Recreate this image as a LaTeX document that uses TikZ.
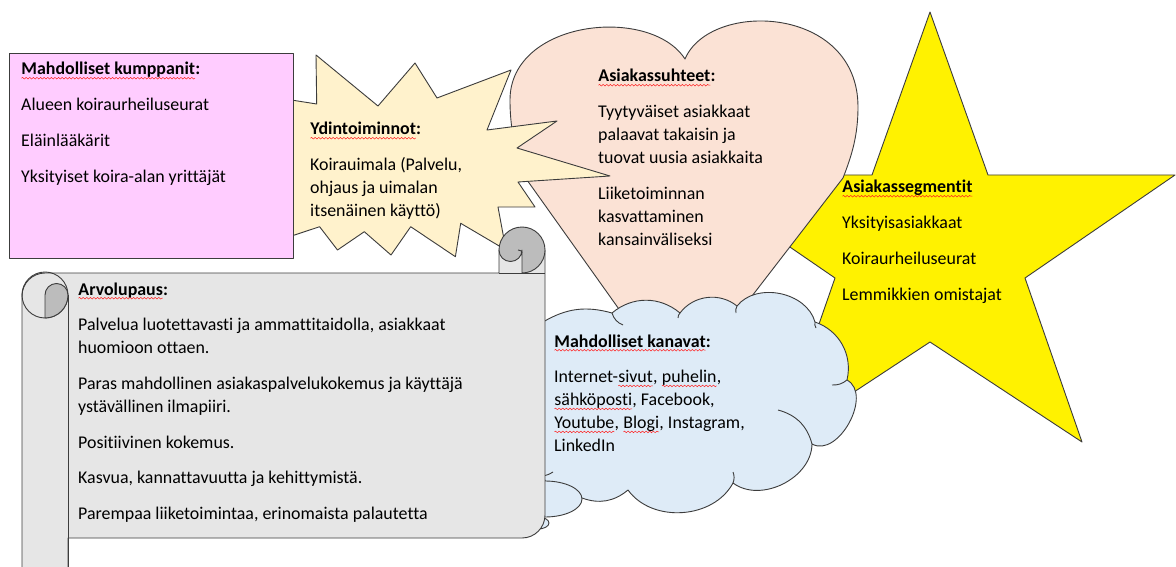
\documentclass[tikz,border=0pt]{standalone}
\usepackage{fontspec}
\setmainfont[Ligatures=NoCommon]{Carlito}
\usetikzlibrary{decorations.pathmorphing}
\definecolor{pinkf}{HTML}{FFCCFF}
\definecolor{expf}{HTML}{FFF2CC}
\definecolor{heartf}{HTML}{FBE2D5}
\definecolor{cloudf}{HTML}{DEEBF7}
\definecolor{scrollf}{HTML}{E6E6E6}
\definecolor{curlf}{HTML}{BCBCBC}
\definecolor{edge}{HTML}{3C3C3C}
\definecolor{wavered}{HTML}{FF2020}
\newcommand\rw[1]{\tikz[baseline=(w.base)]{\node[inner sep=0pt,outer sep=0pt,anchor=base west] (w) at (0,0) {#1};
  \draw[wavered,line width=0.5pt,decorate,decoration={snake,amplitude=0.8pt,segment length=3.6pt}] ([yshift=-3.2pt]w.base west) -- ([yshift=-3.2pt]w.base east);}}
\newcommand\lin[1]{\hbox{#1}}
\newcommand\gap{\vskip12.7pt}
\newcommand\blk[1]{\vtop{\baselineskip=23pt\lineskip=0pt\lineskiplimit=-20pt #1}}
\begin{document}
\begin{tikzpicture}[x=1pt,y=-1pt,
  shp/.style={draw=edge,line width=0.9pt,line join=round},
  stub/.style={draw=edge,line width=0.9pt},
  txt/.style={anchor=base west,inner sep=0pt,font=\fontsize{17.9}{23}\selectfont,text=black}]
\useasboundingbox (0,0) rectangle (1176,567);
\fill[white] (0,0) rectangle (1176,567);
% star
\path[shp,fill=yellow] (930,12) -- (988,175) -- (1175,175) -- (1025,278) -- (1082,442) -- (930,342) -- (778,442) -- (835,278) -- (685,175) -- (872,175) -- cycle;
% heart
\path[shp,fill=heartf] (678,392) -- (527,180) .. controls (518,160) and (510,135) .. (510,100)
  .. controls (510,20) and (650,5) .. (685,59)
  .. controls (710,0) and (858,5) .. (858,107)
  .. controls (858,135) and (852,155) .. (843,178) -- cycle;
% explosion
\path[shp,fill=expf] (285,99) -- (316.7,104) -- (316,55) -- (378,106) -- (415,63) -- (437,98) -- (511,70) -- (487,130) -- (557,121) -- (517,148) -- (610,176) -- (518,182) -- (535,207) -- (498,207) -- (506,250) -- (460.7,223.3) -- (455.4,256.7) -- (410.7,226.7) -- (391,255) -- (364.3,231.7) -- (337.5,250) -- (319.6,226.7) -- (294.6,235) -- (285,237) -- cycle;
% pink box
\path[shp,fill=pinkf] (9,53) rectangle (293,258);
% cloud
\path[shp,fill=cloudf] (543,322) to[bend left=23] (612,313) to[bend left=40] (680,313)
  to[bend left=46] (737,306) to[bend left=63] (815,322) to[bend left=42] (847,380)
  to[bend left=90,looseness=1.05] (812,444) to[bend left=63] (733,483)
  to[bend left=58] (628,490) to[bend left=30] (582,498) to[bend left=40] (543,476)
  -- (525,476) -- (525,322) -- cycle;
\path[shp,fill=cloudf] (545,499) ellipse[x radius=37,y radius=18];
\path[shp,fill=cloudf] (538,523) ellipse[x radius=11,y radius=6];
\draw[stub] (612,313) to[bend right=25] (623,325);
\draw[stub] (680,313) to[bend right=20] (678,318);
\draw[stub] (737,306) to[bend right=20] (736,313);
\draw[stub] (815,322) to[bend right=20] (816,328);
\draw[stub] (847,380) to[bend left=20] (832,385);
\draw[stub] (812,444) to[bend right=30] (778,410);
\draw[stub] (733,483) to[bend right=20] (733,472);
\draw[stub] (543,476) to[bend right=10] (553,472);
% scroll
\path[shp,fill=scrollf] (22,296) arc[start angle=180,end angle=270,radius=23] -- (499,273) -- (499,250) -- (545,250) -- (545,515) arc[start angle=0,end angle=90,radius=23] -- (68,538) -- (68,580) -- (22,580) -- cycle;
\draw[stub] (499,273) -- (545,273);
\path[shp,fill=curlf] (499,250) arc[start angle=180,end angle=360,radius=23] arc[start angle=0,end angle=90,radius=23] -- (522,250) arc[start angle=0,end angle=180,radius=11.5] -- cycle;
\draw[stub] (522,253) .. controls (522,251) .. (518,250);
\draw[stub] (45,295) circle[radius=23];
\path[shp,fill=curlf] (45,318) -- (45,295) arc[start angle=180,end angle=360,radius=11.5] arc[start angle=0,end angle=90,radius=23] -- cycle;
\draw[stub] (68,295) -- (68,580);
% texts
\node[txt] (kumppanit) at (21,75) {\blk{\lin{\textbf{\rw{Mahdolliset kumppanit}:}}\gap
  \lin{Alueen koiraurheiluseurat}\gap\lin{Eläinlääkärit}\gap\lin{Yksityiset koira-alan yrittäjät}}};
\node[txt] (ydin) at (310,135) {\blk{\lin{\textbf{\rw{Ydintoiminnot}:}}\gap
  \lin{Koirauimala (Palvelu,}\lin{ohjaus ja uimalan}\lin{itsenäinen käyttö)}}};
\node[txt] (suhteet) at (598,82) {\blk{\lin{\textbf{\rw{Asiakassuhteet}:}}\gap
  \lin{Tyytyväiset asiakkaat}\lin{palaavat takaisin ja}\lin{tuovat uusia asiakkaita}\gap
  \lin{Liiketoiminnan}\lin{kasvattaminen}\lin{kansainväliseksi}}};
\node[txt] (segmentit) at (842,193) {\blk{\lin{\textbf{\rw{Asiakassegmentit}}}\gap
  \lin{Yksityisasiakkaat}\gap\lin{Koiraurheiluseurat}\gap\lin{Lemmikkien omistajat}}};
\node[txt] (kanavat) at (554,347) {\blk{\lin{\textbf{\rw{Mahdolliset kanavat}:}}\gap
  \lin{Internet-\rw{sivut}, \rw{puhelin},}\lin{\rw{sähköposti}, Facebook,}\lin{\rw{Youtube}, \rw{Blogi}, Instagram,}\lin{LinkedIn}}};
\node[txt] (arvolupaus) at (78,295) {\blk{\lin{\textbf{\rw{Arvolupaus}:}}\gap
  \lin{Palvelua luotettavasti ja ammattitaidolla, asiakkaat}\lin{huomioon ottaen.}\gap
  \lin{Paras mahdollinen asiakaspalvelukokemus ja käyttäjä}\lin{ystävällinen ilmapiiri.}\gap
  \lin{Positiivinen kokemus.}\gap\lin{Kasvua, kannattavuutta ja kehittymistä.}\gap
  \lin{Parempaa liiketoimintaa, erinomaista palautetta}}};
\end{tikzpicture}
\end{document}
